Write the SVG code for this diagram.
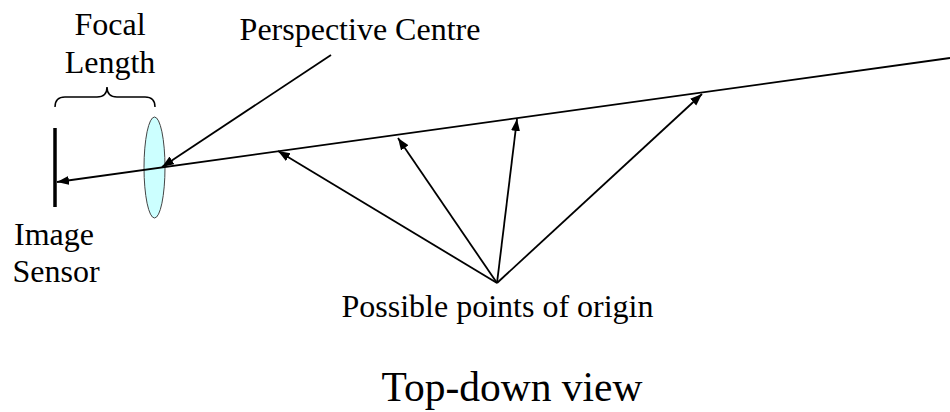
<svg xmlns="http://www.w3.org/2000/svg" width="950" height="412" viewBox="0 0 950 412">
<style>
  .t { font-family: "Liberation Serif", "Times New Roman", serif; fill: #000; text-anchor: middle; font-size: 32px; }
  .ln { stroke: #000; stroke-width: 1.8; fill: none; }
</style>
<defs>
  <marker id="ah" markerUnits="userSpaceOnUse" markerWidth="13" markerHeight="10" refX="12" refY="4.5" orient="auto">
    <path d="M0,0 L12,4.5 L0,9 z" fill="#000"/>
  </marker>
</defs>
<rect width="950" height="412" fill="#fff"/>
<g id="sensor">
  <line x1="55" y1="128" x2="55" y2="207" stroke="#000" stroke-width="3.5"/>
  <text class="t" x="54" y="245">Image</text>
  <text class="t" x="56" y="282">Sensor</text>
</g>
<g id="lens">
  <ellipse cx="154.5" cy="167.5" rx="10.5" ry="50.5" fill="#ccffff" stroke="#444" stroke-width="1"/>
</g>
<g id="focal-length">
  <path class="ln" style="stroke-width:1.5" d="M55,107 Q55,97 65,97 L97,97 Q107,97 107,87 Q107,97 117,97 L145,97 Q155,97 155,107"/>
  <text class="t" x="110" y="35">Focal</text>
  <text class="t" x="110" y="73">Length</text>
</g>
<g id="perspective-centre">
  <text class="t" x="360" y="40">Perspective Centre</text>
</g>
<g id="origin">
  <text class="t" x="497.5" y="317">Possible points of origin</text>
</g>
<g id="title">
  <text class="t" x="512" y="401" style="font-size:41.5px">Top-down view</text>
</g>
<g id="connectors">
  <line class="ln" x1="950" y1="58" x2="57" y2="182" marker-end="url(#ah)"/>
  <line class="ln" x1="331" y1="55" x2="162" y2="167" marker-end="url(#ah)"/>
  <line class="ln" x1="497" y1="283" x2="278" y2="151" marker-end="url(#ah)"/>
  <line class="ln" x1="497" y1="283" x2="398" y2="138" marker-end="url(#ah)"/>
  <line class="ln" x1="497" y1="283" x2="517" y2="119" marker-end="url(#ah)"/>
  <line class="ln" x1="497" y1="283" x2="702" y2="94" marker-end="url(#ah)"/>
</g>
</svg>
